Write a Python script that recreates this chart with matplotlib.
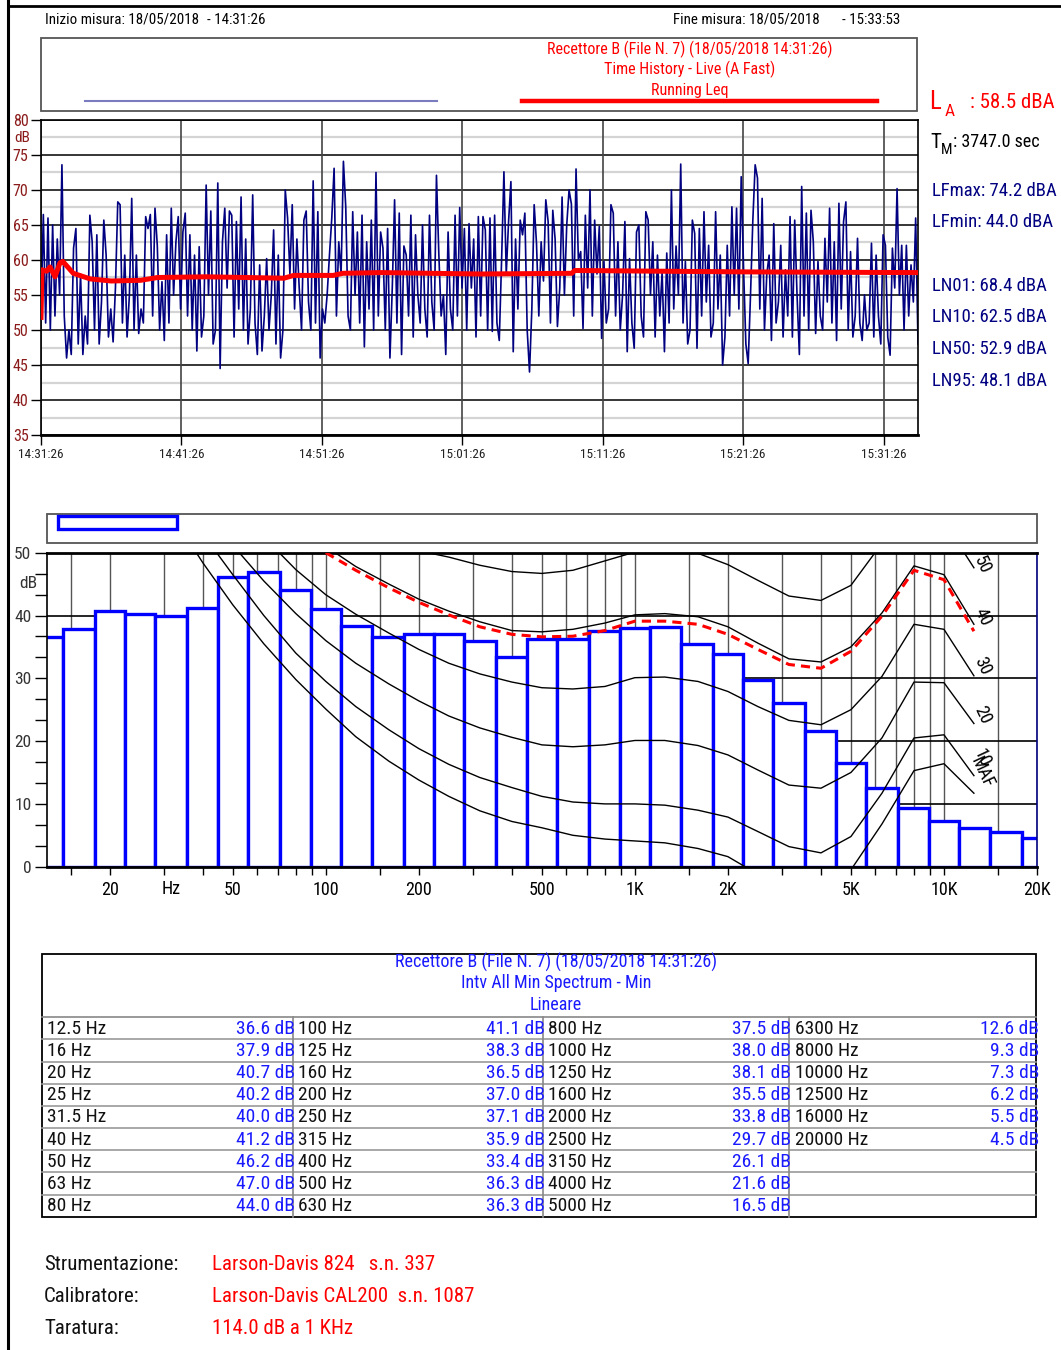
import matplotlib
matplotlib.use('Agg')
import matplotlib.pyplot as plt
import numpy as np
from matplotlib.patches import Rectangle
from matplotlib.ticker import MultipleLocator, NullFormatter

plt.rcParams['font.family'] = ['Roboto Condensed', 'DejaVu Sans']

# --- time history (passo ~10 s) ---
durata = 3747.0
lev_a_1 = [52, 66.5, 51, 66, 50, 65, 52, 63, 55, 73.6,
           52, 46, 50, 46.5, 61.7, 64.5, 48, 58, 46.5, 52,
           48, 66.4, 62.6, 50, 63.6, 48, 54, 65.7, 60.7, 49,
           53, 48.3, 56, 68.3, 67.9, 51, 60.7, 49, 55, 68.8,
           50, 60.7, 49.5, 53, 51, 66.2, 64.5, 66.5, 52, 67.4,
           62, 50, 56.9, 48.5, 63.6, 51, 67.4, 55, 62.6, 66.2,
           53, 64, 66.7, 52, 63.6, 50, 60.7, 47, 61.9, 49,
           52, 70.7, 55, 67, 48, 50, 71, 44.5, 62.6, 67.4,
           56, 67, 66.4, 49, 65.5, 53, 69, 50, 63, 48,
           53, 69.3, 51, 46.5, 59.3, 47, 52, 60.2, 50, 55,
           64.3, 48, 60.7, 46, 50, 70, 66, 58, 67.9, 53,
           63, 56, 50, 65.7, 67, 54, 50, 71.3, 51, 66.9,
           46, 53, 51, 55, 60.7, 66, 73.1, 52, 62.6, 58,
           74.1, 67.6, 52, 50, 66.9, 55, 64, 51, 66.4, 47.6,
           62.6, 53, 65.7, 50, 72.5, 52, 64, 61.7, 50, 64.5,
           46, 56, 68.6, 51, 66.7, 46.5, 62, 60.7, 52, 66.4,
           49, 63.6, 55, 51, 65, 53, 49, 66.4, 54, 50,
           72.1, 61, 52, 55, 46.5, 64, 53, 50, 66.4, 52,
           67.5, 56, 64.5, 50, 65.2, 56, 63, 49, 66.2]
lev_a_2 = [52, 66.2, 64.3, 50, 66, 49.8, 66.4, 51, 48.5, 60,
           72.6, 58, 65.5, 71.2, 46.9, 63, 53, 65.7, 63.6, 66.7,
           50, 44, 53, 67.9, 62.4, 52, 62.6, 57, 68.6, 65.5,
           51, 67.1, 63, 50.5, 56, 69, 55, 65, 70, 68,
           52, 73, 60, 61.2, 50.2, 66.4, 56, 70, 52, 65.7,
           58, 64.8, 48.8, 59.8, 51, 53, 67.9, 66.7, 52, 62.6,
           50, 55, 65.5, 46.9, 60.2, 51, 47.4, 64, 65, 52,
           49, 66.9, 65.7, 55, 62.6, 49, 60.7, 52, 58.3, 46.9,
           61, 51, 70, 53, 62, 55, 73.7, 51, 59.8, 48,
           50, 65.7, 63.8, 47.4, 64.5, 52, 66.9, 54, 62.1, 49,
           51, 66.9, 53, 60.7, 45, 49, 62.1, 52, 67.6, 55,
           67.4, 53, 71.9, 59, 48, 45.2, 55, 65.7, 73.6, 71.7,
           53, 68.8, 50, 58, 60.7, 48.5, 65.2, 51, 54, 62.1,
           49, 58.6, 52, 66.2, 49, 65.7, 55, 46.5, 70.5, 52,
           66.7, 50, 67.1, 62.6, 49.5, 59.8, 52, 50, 63.1, 54,
           67.4, 51, 62.6, 48.5, 68.1, 53, 65.5, 68.3, 50, 61.2,
           49, 52, 63.1, 51, 48.5, 55, 50, 51, 62.4, 49,
           60.7, 52, 48, 63.6, 62.1, 49, 46.4, 61.7, 56, 70.2,
           55, 62.1, 50, 62.1, 52, 59.3, 54, 66, 48]

# running Leq (minuti, dB)
leq_min = [0.0, 0.07, 0.4, 0.64, 1.0, 1.35, 1.55, 2.3, 3.5, 5.0, 7.1, 8.3,
           11.8, 17.3, 18.0, 20.8, 21.5, 24.2, 31.3, 37.8, 38.0, 50.2, 62.45]
leq_db = [51.8, 58.6, 58.4, 59.0, 57.6, 59.6, 59.8, 58.1, 57.3, 57.0, 57.1, 57.5,
          57.6, 57.4, 57.8, 57.8, 58.1, 58.2, 58.0, 58.1, 58.5, 58.3, 58.2]

ore = ['14:31:26', '14:41:26', '14:51:26', '15:01:26', '15:11:26', '15:21:26', '15:31:26']

stat_lab = ['LFmax: 74.2 dBA', 'LFmin: 44.0 dBA', 'LN01: 68.4 dBA',
            'LN10: 62.5 dBA', 'LN50: 52.9 dBA', 'LN95: 48.1 dBA']

# --- spettro 1/3 ottava ---
freq = [12.5, 16, 20, 25, 31.5, 40, 50, 63, 80, 100, 125, 160, 200, 250, 315, 400,
        500, 630, 800, 1000, 1250, 1600, 2000, 2500, 3150, 4000, 5000, 6300, 8000,
        10000, 12500, 16000, 20000]
livelli = [36.6, 37.9, 40.7, 40.2, 40.0, 41.2, 46.2, 47.0, 44.0, 41.1, 38.3, 36.5,
           37.0, 37.1, 35.9, 33.4, 36.3, 36.3, 37.5, 38.0, 38.1, 35.5, 33.8, 29.7,
           26.1, 21.6, 16.5, 12.6, 9.3, 7.3, 6.2, 5.5, 4.5]

# curve isofoniche
curve_f = [20, 25, 31.5, 40, 50, 63, 80, 100, 125, 160, 200, 250, 315, 400, 500, 630,
           800, 1000, 1250, 1600, 2000, 2500, 3150, 4000, 5000, 6300, 8000, 10000, 12500]
maf = [74.3, 65.0, 56.3, 48.4, 41.7, 35.5, 29.8, 25.1, 20.7, 16.8, 13.8, 11.2, 8.9,
       7.2, 6.2, 5.0, 4.4, 4.1, 3.8, 2.9, 1.6, -1.2, -3.6, -4.5, -0.5, 6.8, 15.3, 16.4, 11.7]
phon10 = [77, 69, 61, 53, 46.5, 40, 34, 29.5, 25.5, 21.8, 18.8, 16.3, 14.2, 12.6, 11.2,
          10.3, 10.0, 10.0, 9.8, 9.0, 7.9, 5.6, 3.2, 2.2, 4.8, 11.7, 20.5, 21.0, 14.5]
phon20 = [80, 72, 64.5, 57.5, 51.2, 45.5, 40.3, 36.0, 32.4, 29.1, 26.4, 24.0, 22.1,
          20.6, 19.4, 19.1, 19.4, 20.1, 20.1, 19.3, 17.8, 15.4, 13.0, 12.5, 15.0, 20.5,
          29.4, 29.3, 22.8]
phon30 = [88, 80, 72, 65, 59, 52.5, 47.3, 43.3, 40.2, 37.2, 34.6, 32.4, 30.7, 29.4,
          28.5, 28.3, 28.7, 30.1, 30.2, 29.5, 27.9, 25.5, 23.3, 22.6, 25.0, 30.3, 38.6,
          37.8, 30.4]
phon40 = [95, 88, 81, 74, 68, 62, 56.5, 51.0, 47.8, 45.0, 42.6, 40.7, 39.0, 37.6, 37.4,
          37.8, 38.8, 40.1, 40.3, 39.8, 38.2, 35.6, 33.1, 32.6, 35.0, 40.4, 47.9, 46.5, 38.6]
phon50 = [105, 98, 91, 84, 78, 72, 66, 61, 57, 53.5, 50.3, 49.3, 48.0, 47.0, 46.7, 47.2,
          48.7, 50.1, 50.6, 49.9, 48.1, 45.6, 43.1, 42.4, 44.8, 51.5, 57, 55, 47.6]
rossa_f = [100, 125, 160, 200, 250, 315, 400, 500, 630, 800, 1000, 1250, 1600, 2000,
           2500, 3150, 4000, 5000, 6300, 8000, 10000, 12500]
rossa_db = [50.0, 47.2, 44.4, 42.1, 40.1, 38.2, 37.0, 36.6, 36.7, 37.6, 39.1, 39.1,
            38.6, 37.0, 34.6, 32.2, 31.6, 34.3, 39.9, 47.2, 45.7, 37.5]
curve_lab = ['50', '40', '30', '20', '10', 'MAF']
curve_lab_db = [48.1, 39.8, 31.9, 24.2, 17.3, 15.0]

W, H = 1061, 1350
fig = plt.figure(figsize=(W / 100, H / 100), dpi=100)


def box(x0, y0, x1, y1):
    return [x0 / W, 1 - y1 / H, (x1 - x0) / W, (y1 - y0) / H]


# overlay in pixel per testi e cornici
ov = fig.add_axes([0, 0, 1, 1])
ov.set_xlim(0, W)
ov.set_ylim(H, 0)
ov.axis('off')

ov.plot([8, 8], [0, H], color='black', lw=2.2)
ov.plot([8, W], [6, 6], color='black', lw=2)

fs = 10.8
ov.text(45, 20, 'Inizio misura: 18/05/2018', fontsize=fs, va='center')
ov.text(207, 20, '- 14:31:26', fontsize=fs, va='center')
ov.text(673, 20, 'Fine misura: 18/05/2018', fontsize=fs, va='center')
ov.text(842, 20, '- 15:33:53', fontsize=fs, va='center')

ov.add_patch(Rectangle((41, 38), 876, 73, fill=False, ec='#555555', lw=1.3))
ov.plot([85, 437], [101, 101], color='#7b7bc0', lw=1.5)
ov.plot([522, 877], [101, 101], color='red', lw=3.2)
for yy, tx in zip([49, 69, 90], ['Recettore B (File N. 7) (18/05/2018 14:31:26)',
                                  'Time History - Live (A Fast)', 'Running Leq']):
    ov.text(690, yy, tx, color='red', fontsize=11.5, ha='center', va='center')

ov.text(929, 102, 'L', color='red', fontsize=18, va='center')
ov.text(945, 111, 'A', color='red', fontsize=12.5, va='center')
ov.text(970, 103, ': 58.5 dBA', color='red', fontsize=15, va='center')
ov.text(930, 142, 'T', color='black', fontsize=15, va='center')
ov.text(941, 150, 'M', color='black', fontsize=11, va='center')
ov.text(953, 142, ': 3747.0 sec', color='black', fontsize=13, va='center')
for yy, tx in zip([191, 222, 286, 317, 349, 381], stat_lab):
    ov.text(932, yy, tx, color='#000080', fontsize=13.5, va='center')
ov.text(22, 138, 'dB', color='#8b1a1a', fontsize=11, ha='center', va='center')

# --- grafico time history ---
ax1 = fig.add_axes(box(41, 120, 918, 435))
t = np.linspace(0, durata, len(lev_a_1) + len(lev_a_2))
ax1.set_xlim(0, durata)
ax1.set_ylim(35, 80)
for v in range(35, 81, 5):
    ax1.axhline(v, color='black', lw=1.1, zorder=0)
for v in np.arange(37.5, 80, 5):
    ax1.axhline(v, color='#d4d4d4', lw=1.6, zorder=0)
for s in range(0, 3601, 600):
    ax1.axvline(s, color='#444444', lw=1.2, zorder=0)
ax1.plot(t, lev_a_1 + lev_a_2, color='#000080', lw=1.2, zorder=2)
ax1.plot(np.array(leq_min) * 60, leq_db, color='red', lw=3.6, zorder=3)
ax1.set_xticks(range(0, 3601, 600))
ax1.set_xticklabels(ore, fontsize=9.5, color='#222222')
ax1.set_yticks(range(35, 81, 5))
ax1.set_yticklabels([str(v) for v in range(35, 81, 5)], fontsize=11.5, color='#8b1a1a')
ax1.tick_params(axis='both', direction='out', length=7, pad=2, width=1)
for sp in ax1.spines.values():
    sp.set_linewidth(1.2)
ax1.spines['bottom'].set_linewidth(2)

# --- legenda spettro ---
ov.add_patch(Rectangle((46.7, 514), 990, 29.3, fill=False, ec='#555555', lw=1.3))
ov.add_patch(Rectangle((57.5, 516), 119, 13, fill=False, ec='#0000ff', lw=2.4))
ov.text(28, 583, 'dB', color='#333333', fontsize=12.5, ha='center', va='center')

# --- grafico spettro ---
ax2 = fig.add_axes(box(46.7, 552.7, 1037, 866.7))
ax2.set_xscale('log')
ax2.set_xlim(12.5, 20000)
ax2.set_ylim(0, 50)
griglia_f = [15, 20, 30, 40, 50, 60, 70, 80, 90, 100, 150, 200, 300, 400, 500, 600, 700,
             800, 900, 1000, 1500, 2000, 3000, 4000, 5000, 6000, 7000, 8000, 9000, 10000,
             15000, 20000]
for g in griglia_f:
    ax2.axvline(g, color='#555555', lw=1, zorder=0)
for v in [10, 20, 30, 40]:
    ax2.axhline(v, color='black', lw=1.2, zorder=0)

f = np.array(freq)
mid = np.sqrt(f[:-1] * f[1:])
sx = np.r_[f[0] / 2 ** (1 / 6), mid]
dx = np.r_[mid, f[-1] * 2 ** (1 / 6)]
ax2.bar(sx, livelli, width=dx - sx, align='edge', facecolor='white',
        edgecolor='#0000ff', lw=2.4, zorder=2)

for cv in [maf, phon10, phon20, phon30, phon40, phon50]:
    ax2.plot(curve_f, cv, color='black', lw=1, zorder=3)
ax2.plot(rossa_f, rossa_db, color='red', lw=2.2, ls=(0, (3, 2)), zorder=4)
for lab, yv in zip(curve_lab, curve_lab_db):
    ax2.text(13300, yv, lab, rotation=-65, fontsize=13, ha='center', va='center',
             rotation_mode='anchor', zorder=5)

ax2.set_xticks(griglia_f, minor=True)
ax2.xaxis.set_minor_formatter(NullFormatter())
ax2.set_xticks([20, 50, 100, 200, 500, 1000, 2000, 5000, 10000, 20000])
ax2.set_xticklabels(['20', '50', '100', '200', '500', '1K', '2K', '5K', '10K', '20K'],
                    fontsize=13)
ax2.text(31.5, -0.071, 'Hz', transform=ax2.get_xaxis_transform(), fontsize=13,
         ha='center', va='center')
ax2.set_yticks(range(0, 51, 10))
ax2.set_yticklabels([str(v) for v in range(0, 51, 10)], fontsize=12.5, color='#333333')
ax2.yaxis.set_minor_locator(MultipleLocator(10 / 3))
ax2.tick_params(axis='both', which='both', direction='out', length=6, width=1, pad=4)
ax2.tick_params(axis='y', which='both', length=9, pad=2)
for sp in ax2.spines.values():
    sp.set_linewidth(1.2)
ax2.spines['top'].set_linewidth(2)
ax2.spines['bottom'].set_linewidth(2)
ax2.spines['right'].set_color('#000080')

# --- tabella ---
tx0, ty0, tx1, ty1 = 41.7, 954.3, 1036, 1216.7
ov.add_patch(Rectangle((tx0, ty0), tx1 - tx0, ty1 - ty0, fill=False, ec='black', lw=1.3))
riga0 = 1017.3
hr = (ty1 - riga0) / 9
ov.plot([tx0, tx1], [riga0, riga0], color='#888888', lw=1.2)
for k in range(1, 9):
    ov.plot([tx0, tx1], [riga0 + k * hr] * 2, color='#999999', lw=1.2)
for xv in [292.7, 542.7, 789.3]:
    ov.plot([xv, xv], [riga0, ty1], color='#888888', lw=1.2)
blu = '#1a1aff'
for yy, tx in zip([962, 983, 1005], ['Recettore B (File N. 7) (18/05/2018 14:31:26)',
                                     'Intv All Min Spectrum - Min', 'Lineare']):
    ov.text(556, yy, tx, color=blu, fontsize=13, ha='center', va='center')
col_x = [47, 298, 548, 795]
col_v = [295, 545, 791, 1039]
for i, (fr, lv) in enumerate(zip(freq, livelli)):
    c, r = divmod(i, 9)
    yy = riga0 + (r + 0.52) * hr
    ov.text(col_x[c], yy, f'{fr:g} Hz', fontsize=14, va='center', color='#111111')
    ov.text(col_v[c], yy, f'{lv:.1f} dB', fontsize=14, va='center', ha='right', color=blu)

# --- note strumentazione ---
for yy, a, b in zip([1265, 1297, 1328],
                    ['Strumentazione:', 'Calibratore:', 'Taratura:'],
                    ['Larson-Davis 824   s.n. 337', 'Larson-Davis CAL200  s.n. 1087',
                     '114.0 dB a 1 KHz']):
    ov.text(44, yy, a, fontsize=15, va='center', color='#111111')
    ov.text(212, yy, b, fontsize=15, va='center', color='red')

fig.savefig('out.png', dpi=100)
